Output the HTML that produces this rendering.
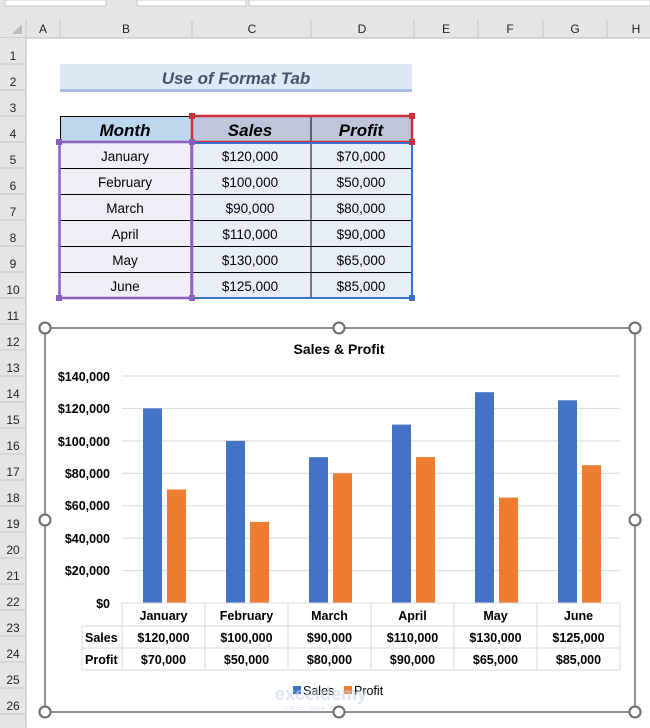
<!DOCTYPE html>
<html><head><meta charset="utf-8"><style>
html,body{margin:0;padding:0;background:#fff}
svg{display:block}
text{font-family:"Liberation Sans",Calibri,sans-serif}
</style></head><body>
<svg width="650" height="728" viewBox="0 0 650 728" xmlns="http://www.w3.org/2000/svg">
<!-- top bar -->
<rect x="0" y="0" width="650" height="38" fill="#e6e6e6"/>
<rect x="5" y="0" width="101" height="6" fill="#fff" stroke="#c8c8c8"/>
<rect x="137" y="0" width="109" height="6" fill="#fff" stroke="#c8c8c8"/>
<rect x="249" y="0" width="401" height="6" fill="#fff" stroke="#c8c8c8"/>
<line x1="0" y1="38" x2="650" y2="38" stroke="#b8b8b8"/>
<polygon points="22,24 22,34 12,34" fill="#bdbdbd"/>
<!-- column headers -->
<g font-size="12" fill="#222" text-anchor="middle">
<text x="43" y="33">A</text><text x="126" y="33">B</text><text x="252" y="33">C</text><text x="362" y="33">D</text><text x="446" y="33">E</text><text x="510" y="33">F</text><text x="575" y="33">G</text><text x="636" y="33">H</text>
</g>
<g stroke="#c6c6c6">
<line x1="26" y1="20" x2="26" y2="38"/><line x1="60" y1="20" x2="60" y2="38"/><line x1="192" y1="20" x2="192" y2="38"/><line x1="311" y1="20" x2="311" y2="38"/><line x1="414" y1="20" x2="414" y2="38"/><line x1="478" y1="20" x2="478" y2="38"/><line x1="543" y1="20" x2="543" y2="38"/><line x1="607" y1="20" x2="607" y2="38"/>
</g>
<!-- row headers -->
<rect x="0" y="38" width="26" height="690" fill="#e6e6e6"/>
<line x1="26" y1="38" x2="26" y2="728" stroke="#b8b8b8"/>
<g font-size="12" fill="#222" text-anchor="middle">
<text x="13" y="60">1</text><text x="13" y="86">2</text><text x="13" y="112">3</text><text x="13" y="138">4</text><text x="13" y="164">5</text><text x="13" y="190">6</text><text x="13" y="216">7</text><text x="13" y="242">8</text><text x="13" y="268">9</text><text x="13" y="294">10</text><text x="13" y="320">11</text><text x="13" y="346">12</text><text x="13" y="372">13</text><text x="13" y="398">14</text><text x="13" y="424">15</text><text x="13" y="450">16</text><text x="13" y="476">17</text><text x="13" y="502">18</text><text x="13" y="528">19</text><text x="13" y="554">20</text><text x="13" y="580">21</text><text x="13" y="606">22</text><text x="13" y="632">23</text><text x="13" y="658">24</text><text x="13" y="684">25</text><text x="13" y="710">26</text>
</g>
<g stroke="#c6c6c6">
<line x1="0" y1="64" x2="26" y2="64"/><line x1="0" y1="90" x2="26" y2="90"/><line x1="0" y1="116" x2="26" y2="116"/><line x1="0" y1="142" x2="26" y2="142"/><line x1="0" y1="168" x2="26" y2="168"/><line x1="0" y1="194" x2="26" y2="194"/><line x1="0" y1="220" x2="26" y2="220"/><line x1="0" y1="246" x2="26" y2="246"/><line x1="0" y1="272" x2="26" y2="272"/><line x1="0" y1="298" x2="26" y2="298"/><line x1="0" y1="324" x2="26" y2="324"/><line x1="0" y1="350" x2="26" y2="350"/><line x1="0" y1="376" x2="26" y2="376"/><line x1="0" y1="402" x2="26" y2="402"/><line x1="0" y1="428" x2="26" y2="428"/><line x1="0" y1="454" x2="26" y2="454"/><line x1="0" y1="480" x2="26" y2="480"/><line x1="0" y1="506" x2="26" y2="506"/><line x1="0" y1="532" x2="26" y2="532"/><line x1="0" y1="558" x2="26" y2="558"/><line x1="0" y1="584" x2="26" y2="584"/><line x1="0" y1="610" x2="26" y2="610"/><line x1="0" y1="636" x2="26" y2="636"/><line x1="0" y1="662" x2="26" y2="662"/><line x1="0" y1="688" x2="26" y2="688"/><line x1="0" y1="714" x2="26" y2="714"/>
</g>
<!-- title cell -->
<rect x="60" y="64" width="352" height="26" fill="#dde9f5"/>
<rect x="60" y="89" width="352" height="3" fill="#a9bde3"/>
<text x="236" y="84" font-size="17" font-weight="bold" font-style="italic" fill="#44546a" text-anchor="middle">Use of Format Tab</text>
<!-- table -->
<rect x="60" y="116" width="132" height="26" fill="#bdd7ee"/>
<rect x="192" y="116" width="220" height="26" fill="#bfc5db"/>
<rect x="60" y="142" width="132" height="156" fill="#f0edf7"/>
<rect x="192" y="142" width="220" height="156" fill="#e8eef8"/>
<g stroke="#000" stroke-width="1">
<line x1="60" y1="116.5" x2="192" y2="116.5"/><line x1="60.5" y1="116" x2="60.5" y2="142"/>
<line x1="311" y1="116" x2="311" y2="298"/>
<line x1="60" y1="168.5" x2="412" y2="168.5"/><line x1="60" y1="194.5" x2="412" y2="194.5"/><line x1="60" y1="220.5" x2="412" y2="220.5"/><line x1="60" y1="246.5" x2="412" y2="246.5"/><line x1="60" y1="272.5" x2="412" y2="272.5"/>
</g>
<rect x="59.5" y="142" width="132" height="156" fill="none" stroke="#8a5fc0" stroke-width="2.5"/>
<rect x="192" y="116" width="220" height="26" fill="none" stroke="#c8323d" stroke-width="2.5"/>
<rect x="192" y="143" width="220" height="155" fill="none" stroke="#3a6fc8" stroke-width="2" stroke-dasharray="0"/>
<line x1="192" y1="143" x2="192" y2="298" stroke="#8a5fc0" stroke-width="2.5"/>
<g fill="#8a5fc0"><rect x="56" y="139" width="6" height="6"/><rect x="56" y="295" width="6" height="6"/><rect x="189" y="295" width="6" height="6"/><rect x="189" y="139" width="6" height="6"/></g>
<g fill="#c8323d"><rect x="189" y="113" width="6" height="6"/><rect x="409" y="113" width="6" height="6"/><rect x="409" y="139" width="6" height="6"/></g>
<rect x="409" y="295" width="6" height="6" fill="#3a6fc8"/>
<g font-size="17" font-weight="bold" font-style="italic" fill="#000" text-anchor="middle">
<text x="125" y="136">Month</text><text x="250" y="136">Sales</text><text x="361" y="136">Profit</text>
</g>
<g font-size="13.5" fill="#000" text-anchor="middle">
<text x="125" y="161">January</text><text x="250" y="161">$120,000</text><text x="361" y="161">$70,000</text>
<text x="125" y="187">February</text><text x="250" y="187">$100,000</text><text x="361" y="187">$50,000</text>
<text x="125" y="213">March</text><text x="250" y="213">$90,000</text><text x="361" y="213">$80,000</text>
<text x="125" y="239">April</text><text x="250" y="239">$110,000</text><text x="361" y="239">$90,000</text>
<text x="125" y="265">May</text><text x="250" y="265">$130,000</text><text x="361" y="265">$65,000</text>
<text x="125" y="291">June</text><text x="250" y="291">$125,000</text><text x="361" y="291">$85,000</text>
</g>
<!-- chart -->
<rect x="45" y="328" width="590" height="384" fill="#fff" stroke="#6b6b6b" stroke-width="1.5"/>
<text x="339" y="354" font-size="14" font-weight="bold" text-anchor="middle" fill="#000">Sales &amp; Profit</text>
<g stroke="#d9d9d9">
<line x1="122" y1="376" x2="620" y2="376"/><line x1="122" y1="408.4" x2="620" y2="408.4"/><line x1="122" y1="440.9" x2="620" y2="440.9"/><line x1="122" y1="473.3" x2="620" y2="473.3"/><line x1="122" y1="505.7" x2="620" y2="505.7"/><line x1="122" y1="538.1" x2="620" y2="538.1"/><line x1="122" y1="570.6" x2="620" y2="570.6"/>
</g>
<g font-size="12.5" font-weight="bold" text-anchor="end" fill="#000">
<text x="110" y="381">$140,000</text><text x="110" y="413">$120,000</text><text x="110" y="446">$100,000</text><text x="110" y="478">$80,000</text><text x="110" y="510">$60,000</text><text x="110" y="543">$40,000</text><text x="110" y="575">$20,000</text><text x="110" y="608">$0</text>
</g>
<g fill="#4472c4">
<rect x="143" y="408.4" width="19" height="194.6"/>
<rect x="226" y="440.9" width="19" height="162.1"/>
<rect x="309" y="457.1" width="19" height="145.9"/>
<rect x="392" y="424.6" width="19" height="178.4"/>
<rect x="475" y="392.2" width="19" height="210.8"/>
<rect x="558" y="400.3" width="19" height="202.7"/>
</g>
<g fill="#ed7d31">
<rect x="167" y="489.5" width="19" height="113.5"/>
<rect x="250" y="521.9" width="19" height="81.1"/>
<rect x="333" y="473.3" width="19" height="129.7"/>
<rect x="416" y="457.1" width="19" height="145.9"/>
<rect x="499" y="497.6" width="19" height="105.4"/>
<rect x="582" y="465.2" width="19" height="137.8"/>
</g>
<g stroke="#d9d9d9" fill="none">
<line x1="122" y1="603" x2="620" y2="603"/>
<line x1="82" y1="626" x2="620" y2="626"/><line x1="82" y1="648" x2="620" y2="648"/><line x1="82" y1="670" x2="620" y2="670"/>
<line x1="82" y1="626" x2="82" y2="670"/>
<line x1="122" y1="603" x2="122" y2="670"/><line x1="205" y1="603" x2="205" y2="670"/><line x1="288" y1="603" x2="288" y2="670"/><line x1="371" y1="603" x2="371" y2="670"/><line x1="454" y1="603" x2="454" y2="670"/><line x1="537" y1="603" x2="537" y2="670"/><line x1="620" y1="603" x2="620" y2="670"/>
</g>
<g font-size="12.5" font-weight="bold" text-anchor="middle" fill="#000">
<text x="163.5" y="620">January</text><text x="246.5" y="620">February</text><text x="329.5" y="620">March</text><text x="412.5" y="620">April</text><text x="495.5" y="620">May</text><text x="578.5" y="620">June</text>
<text x="163.5" y="642">$120,000</text><text x="246.5" y="642">$100,000</text><text x="329.5" y="642">$90,000</text><text x="412.5" y="642">$110,000</text><text x="495.5" y="642">$130,000</text><text x="578.5" y="642">$125,000</text>
<text x="163.5" y="664">$70,000</text><text x="246.5" y="664">$50,000</text><text x="329.5" y="664">$80,000</text><text x="412.5" y="664">$90,000</text><text x="495.5" y="664">$65,000</text><text x="578.5" y="664">$85,000</text>
</g>
<g font-size="12.5" font-weight="bold" fill="#000">
<text x="85" y="642">Sales</text><text x="85" y="664">Profit</text>
</g>
<!-- legend -->
<rect x="293" y="686" width="8" height="8" fill="#4472c4"/>
<text x="303" y="695" font-size="12.5" fill="#000">Sales</text>
<rect x="344" y="686" width="8" height="8" fill="#ed7d31"/>
<text x="354" y="695" font-size="12.5" fill="#000">Profit</text>
<text x="275" y="700" font-size="18" font-weight="bold" fill="#c9d7ef" opacity="0.6">exceldemy</text>
<text x="285" y="710" font-size="6" fill="#c9d7ef" opacity="0.8">EXCEL · DATA · BI</text>
<!-- handles -->
<g fill="#fff" stroke="#6b6b6b" stroke-width="2">
<circle cx="45" cy="328" r="5.5"/><circle cx="339" cy="328" r="5.5"/><circle cx="635" cy="328" r="5.5"/>
<circle cx="45" cy="520" r="5.5"/><circle cx="635" cy="520" r="5.5"/>
<circle cx="45" cy="712" r="5.5"/><circle cx="339" cy="712" r="5.5"/><circle cx="635" cy="712" r="5.5"/>
</g>
</svg>
</body></html>
